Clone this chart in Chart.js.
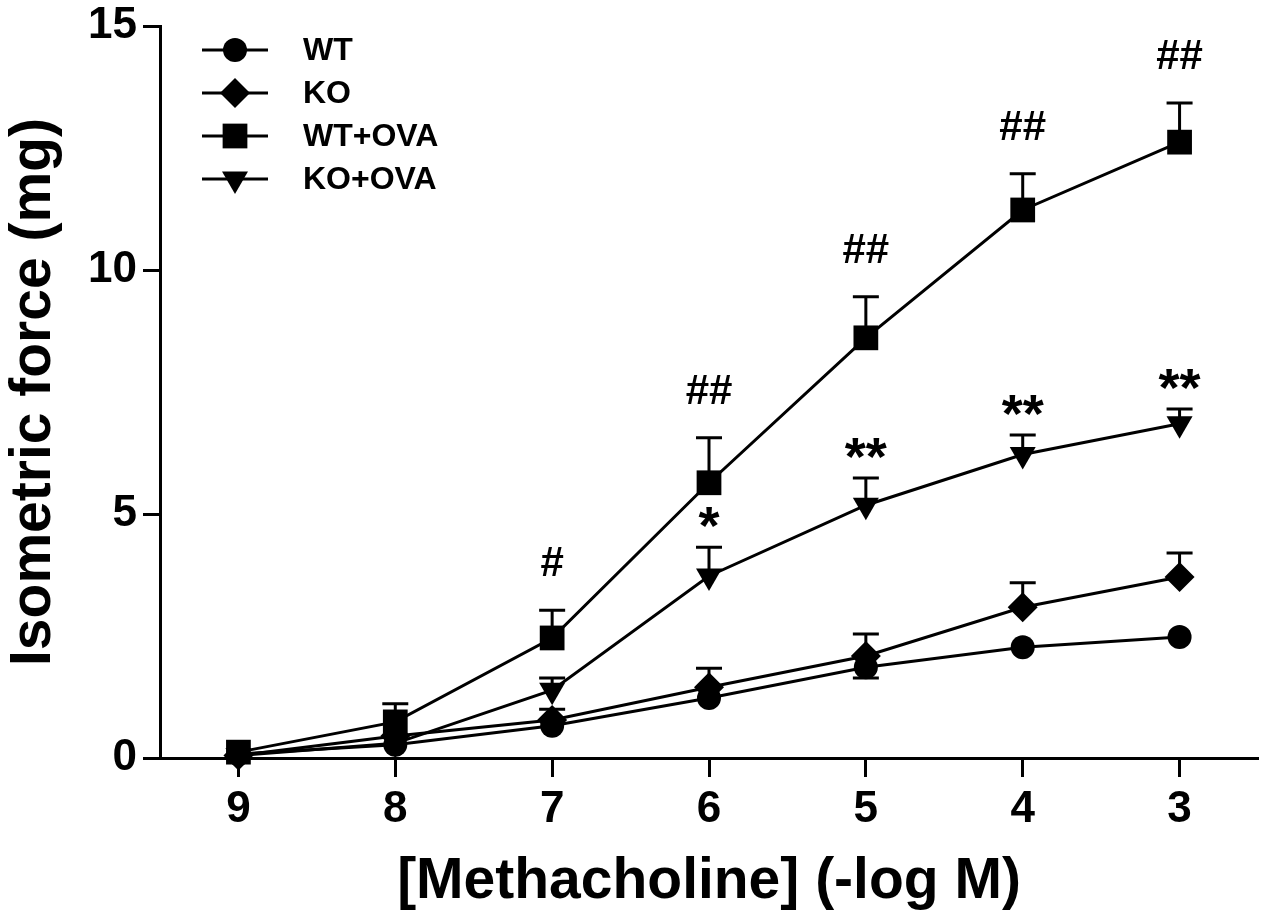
<!DOCTYPE html>
<html>
<head>
<meta charset="utf-8">
<title>Isometric force</title>
<script src="https://cdn.jsdelivr.net/npm/chart.js@4"></script>
<style>
    html, body { margin: 0; padding: 0; background: #fff; }
    #wrap { width: 1267px; height: 920px; }
</style>
</head>
<body>
<div id="wrap"><canvas id="forceChart" width="1267" height="920"></canvas></div>
<script>
// data
const doses = [9, 8, 7, 6, 5, 4, 3];
const xTicks = [9, 8, 7, 6, 5, 4, 3];
const yTicks = [0, 5, 10, 15];

const wt = [0.08, 0.27, 0.66, 1.23, 1.86, 2.27, 2.48];
const wtErr = [0, 0, 0, 0, 0.22, 0, 0];          // drawn below the point
const ko = [0.05, 0.45, 0.78, 1.45, 2.09, 3.09, 3.71];
const koErr = [0, 0, 0.22, 0.39, 0.45, 0.5, 0.49];
const wtOva = [0.12, 0.74, 2.46, 5.64, 8.61, 11.23, 12.62];
const wtOvaErr = [0, 0.37, 0.57, 0.92, 0.84, 0.74, 0.8];
const koOva = [0.05, 0.3, 1.39, 3.73, 5.18, 6.22, 6.85];
const koOvaErr = [0, 0, 0.25, 0.59, 0.56, 0.4, 0.3];

// significance marks
const hashMarks = ['', '', '#', '##', '##', '##', '##'];   // WT+OVA vs WT
const starMarks = ['', '', '', '*', '**', '**', '**'];     // KO+OVA vs KO

const FONT = "'Liberation Sans', Arial, Helvetica, sans-serif";

function toPoints(values) {
    return doses.map((d, i) => ({ x: d, y: values[i] }));
}

const series = [
    { label: 'WT', values: wt, err: wtErr, down: true, style: 'circle', radius: 12, rotation: 0 },
    { label: 'KO', values: ko, err: koErr, down: false, style: 'rectRot', radius: 15, rotation: 0 },
    { label: 'WT+OVA', values: wtOva, err: wtOvaErr, down: false, style: 'rect', radius: 17.5, rotation: 0 },
    { label: 'KO+OVA', values: koOva, err: koOvaErr, down: false, style: 'triangle', radius: 15, rotation: 180 }
];

// error bars behind the markers
const errorBars = {
    id: 'errorBars',
    beforeDatasetsDraw(chart) {
        const ctx = chart.ctx;
        const xs = chart.scales.x;
        const ys = chart.scales.y;
        ctx.save();
        ctx.strokeStyle = '#000';
        ctx.lineWidth = 3;
        series.forEach(s => {
            s.values.forEach((v, i) => {
                if (!s.err[i]) return;
                const x = xs.getPixelForValue(doses[i]);
                const y0 = ys.getPixelForValue(v);
                const y1 = ys.getPixelForValue(s.down ? v - s.err[i] : v + s.err[i]);
                ctx.beginPath();
                ctx.moveTo(x, y0);
                ctx.lineTo(x, y1);
                ctx.moveTo(x - 13, y1);
                ctx.lineTo(x + 13, y1);
                ctx.stroke();
            });
        });
        ctx.restore();
    }
};

// significance marks and the legend
const overlay = {
    id: 'overlay',
    afterDraw(chart) {
        const ctx = chart.ctx;
        const xs = chart.scales.x;
        const ys = chart.scales.y;
        ctx.save();
        ctx.fillStyle = '#000';
        ctx.textAlign = 'center';
        ctx.textBaseline = 'alphabetic';
        doses.forEach((d, i) => {
            const x = xs.getPixelForValue(d);
            if (hashMarks[i]) {
                const top = ys.getPixelForValue(wtOva[i] + wtOvaErr[i]);
                ctx.font = 'bold 42px ' + FONT;
                ctx.fillText(hashMarks[i], x, top - 34);
            }
            if (starMarks[i]) {
                const top = ys.getPixelForValue(koOva[i] + koOvaErr[i]);
                ctx.font = 'bold 54px ' + FONT;
                ctx.fillText(starMarks[i], x, top - 3);
            }
        });

        // legend
        ctx.textAlign = 'left';
        ctx.textBaseline = 'middle';
        ctx.font = 'bold 32px ' + FONT;
        ctx.lineWidth = 3;
        ctx.strokeStyle = '#000';
        series.forEach((s, i) => {
            const y = 50 + i * 43;
            ctx.beginPath();
            ctx.moveTo(202, y);
            ctx.lineTo(268, y);
            ctx.stroke();
            Chart.helpers.drawPoint(ctx, {
                pointStyle: s.style,
                radius: s.radius,
                rotation: s.rotation,
                borderWidth: 0
            }, 235, y);
            ctx.fillText(s.label, 303, y + 1);
        });
        ctx.restore();
    }
};

const ctx = document.getElementById('forceChart').getContext('2d');

new Chart(ctx, {
    type: 'line',
    data: {
        datasets: series.map(s => ({
            label: s.label,
            data: toPoints(s.values),
            borderColor: '#000',
            backgroundColor: '#000',
            borderWidth: 3,
            pointStyle: s.style,
            pointRadius: s.radius,
            pointRotation: s.rotation,
            pointBorderWidth: 0,
            pointBackgroundColor: '#000',
            tension: 0,
            fill: false,
            clip: false
        }))
    },
    options: {
        responsive: false,
        animation: false,
        events: [],
        layout: {
            autoPadding: false,
            padding: { top: 26, right: 9, left: 0, bottom: 0 }
        },
        plugins: {
            legend: { display: false },
            tooltip: { enabled: false }
        },
        scales: {
            x: {
                type: 'linear',
                reverse: true,
                min: 2.5,
                max: 9.5,
                afterBuildTicks(scale) {
                    scale.ticks = xTicks.map(v => ({ value: v }));
                },
                afterFit(scale) {
                    scale.height = 162;
                    scale.paddingLeft = 0;
                    scale.paddingRight = 0;
                },
                grid: {
                    drawOnChartArea: false,
                    drawTicks: true,
                    tickLength: 19,
                    tickWidth: 3,
                    tickColor: '#000'
                },
                border: { display: true, color: '#000', width: 3 },
                ticks: {
                    color: '#000',
                    padding: 6,
                    font: { family: FONT, size: 44, weight: 'bold' }
                },
                title: {
                    display: true,
                    text: '[Methacholine] (-log M)',
                    color: '#000',
                    padding: { top: 0, bottom: 4 },
                    font: { family: FONT, size: 57, weight: 'bold' }
                }
            },
            y: {
                min: 0,
                max: 15,
                afterBuildTicks(scale) {
                    scale.ticks = yTicks.map(v => ({ value: v }));
                },
                afterFit(scale) {
                    scale.width = 160;
                    scale.paddingTop = 0;
                    scale.paddingBottom = 0;
                },
                grid: {
                    drawOnChartArea: false,
                    drawTicks: true,
                    tickLength: 17,
                    tickWidth: 3,
                    tickColor: '#000'
                },
                border: { display: true, color: '#000', width: 3 },
                ticks: {
                    color: '#000',
                    padding: 6,
                    font: { family: FONT, size: 44, weight: 'bold' }
                },
                title: {
                    display: true,
                    text: 'Isometric force (mg)',
                    color: '#000',
                    padding: { top: 0, bottom: 0 },
                    font: { family: FONT, size: 57, weight: 'bold' }
                }
            }
        }
    },
    plugins: [errorBars, overlay]
});
</script>
</body>
</html>
